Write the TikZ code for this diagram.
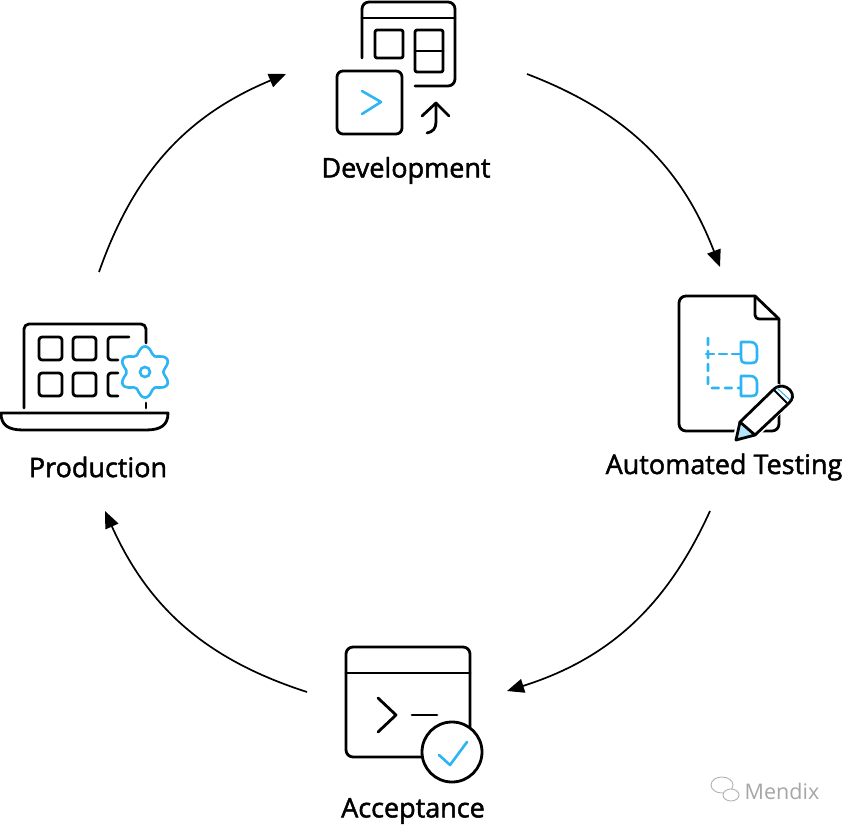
\documentclass[tikz,border=0pt]{standalone}
\usepackage{fontspec}
\newfontfamily\labelfont[FakeBold=1.7]{Open Sans}
\newfontfamily\markfont{Open Sans}
\usetikzlibrary{arrows.meta}
\definecolor{iconblue}{HTML}{2DB4F5}
\tikzset{
    iconline/.style={draw=black, line width=2.8pt, line cap=round, line join=round},
    blueline/.style={draw=iconblue, line width=2.6pt, line cap=round, line join=round},
    cycleline/.style={draw=black, line width=1.7pt, -{Triangle[length=17pt,width=14pt]}},
    iconlabel/.style={font=\labelfont\fontsize{27}{30}\selectfont, text=black, inner sep=0pt}
}
\begin{document}
\begin{tikzpicture}[x=1pt, y=-1pt]
        \useasboundingbox (0,0) rectangle (844,826);

        % Labels
        \node[iconlabel] (dev) at (406,170.5) {Development};
        \node[iconlabel] (test) at (724,467) {Automated Testing};
        \node[iconlabel] (acc) at (413,811) {Acceptance};
        \node[iconlabel] (prod) at (98,467) {Production};

        % Connector ends
        \coordinate (prodout) at (99,272);
        \coordinate (devin) at (286,74);
        \coordinate (devout) at (527,74);
        \coordinate (testin) at (720,267);
        \coordinate (testout) at (710,511);
        \coordinate (accin) at (507,691);
        \coordinate (accout) at (307,692);
        \coordinate (prodin) at (105,511);

        % Cycle
        \draw[cycleline] (prodout) to[bend left=24] (devin);
        \draw[cycleline] (devout) to[bend left=24] (testin);
        \draw[cycleline] (testout) to[bend left=24] (accin);
        \draw[cycleline] (accout) to[bend left=24] (prodin);

        % Development icon
        \draw[iconline, rounded corners=7pt] (362,58) -- (362,2) -- (455,2) -- (455,86) -- (415,86);
        \draw[iconline] (362,18) -- (455,18);
        \draw[iconline, rounded corners=2pt] (375,30) rectangle (403,58);
        \draw[iconline, rounded corners=2pt] (415,30) rectangle (443,72);
        \draw[iconline] (415,51) -- (443,51);
        \draw[iconline, rounded corners=6pt] (337,71) rectangle (402,134);
        \draw[blueline] (362,91) -- (381,102) -- (362,114);
        \draw[iconline] (422,116) -- (436,103) -- (449,116);
        \draw[iconline] (436,103) -- (436,122) .. controls (436,128) and (433,132) .. (427,133);

        % Automated Testing icon
        \draw[iconline, rounded corners=7pt] (755,296) -- (679,296) -- (679,431) -- (779,431) -- (779,319);
        \draw[iconline] (755,296) -- (779,319);
        \draw[iconline, rounded corners=4pt] (755,296) -- (755,319) -- (779,319);
        \draw[blueline, dash pattern=on 7pt off 6pt, rounded corners=4pt] (708,338) -- (708,388) -- (740,388);
        \draw[blueline, dash pattern=on 8pt off 5pt] (706,354) -- (740,354);
        \draw[blueline] (741,342) -- (750,342) .. controls (755,342) and (757,345) .. (757,349) -- (757,359) .. controls (757,362) and (755,363) .. (752,363) -- (745,363) .. controls (742,363) and (741,361) .. (741,358) -- cycle;
        \draw[blueline] (741,376) -- (750,376) .. controls (755,376) and (757,379) .. (757,383) -- (757,392) .. controls (757,395) and (755,396) .. (752,396) -- (741,396) -- cycle;
        % Pencil
        \draw[white, line width=7pt, line join=round] (736,440) -- (740,422) -- (777,387) -- (792,397) -- (755,435) -- cycle;
        \draw[fill=iconblue!35, draw=none] (736,440) -- (740,422) -- (755,435) -- cycle;
        \draw[iconline, fill=white] (740,422) -- (774,389) .. controls (780,384) and (786,386) .. (790,390) .. controls (794,395) and (793,399) .. (789,403) -- (755,435) -- cycle;
        \draw[iconline] (740,422) -- (736,440) -- (755,435);
        \draw[iconline, line width=1.8pt] (774,390) -- (787,403);
        \draw[blueline, line width=1pt] (777,388) -- (790,400);

        % Acceptance icon
        \draw[iconline, rounded corners=7pt] (346,647) rectangle (470,757);
        \draw[iconline] (346,673) -- (470,673);
        \draw[iconline] (378,698) -- (396,715) -- (378,732);
        \draw[iconline] (412,715) -- (437,715);
        \node[circle, draw=black, line width=2.8pt, fill=white, minimum size=60pt, inner sep=0pt] (check) at (452,752) {};
        \draw[blueline] (439,755) -- (450,765) -- (467,742);

        % Production icon
        \draw[iconline, rounded corners=5pt] (24,408) -- (24,324) -- (146,324) -- (146,343);
        \draw[iconline] (146,403) -- (146,408);
        \foreach \col in {39,73} {
            \draw[iconline, rounded corners=3pt] (\col,337) rectangle ++(23,23);
            \draw[iconline, rounded corners=3pt] (\col,373) rectangle ++(23,23);
        }
        \draw[iconline, rounded corners=3pt] (129,337) -- (108,337) -- (108,360) -- (118,360);
        \draw[iconline, rounded corners=3pt] (118,373) -- (108,373) -- (108,396) -- (118,396);
        \draw[iconline] (1,413) -- (168,413) .. controls (168,425) and (161,430) .. (146,430) -- (23,430) .. controls (8,430) and (1,425) .. (1,413) -- cycle;
        % Gear
        \draw[blueline, fill=white] plot[smooth cycle, samples=37, domain=0:350] ({145+(22+3.7*cos(6*(\x-90)))*cos(\x)}, {372+(22+3.7*cos(6*(\x-90)))*sin(\x)});
        \node[circle, draw=iconblue, line width=2.6pt, minimum size=10pt, inner sep=0pt] (hub) at (145,372) {};

        % Watermark
        \draw[gray!60, line width=0.9pt] (722,785) ellipse (11 and 8);
        \draw[gray!60, line width=0.9pt, fill=white] (731,795) ellipse (8 and 6);
        \node[font=\markfont\fontsize{21.5}{24}\selectfont, text=gray!70, inner sep=0pt] (mark) at (782,791) {Mendix};
    \end{tikzpicture}
\end{document}
